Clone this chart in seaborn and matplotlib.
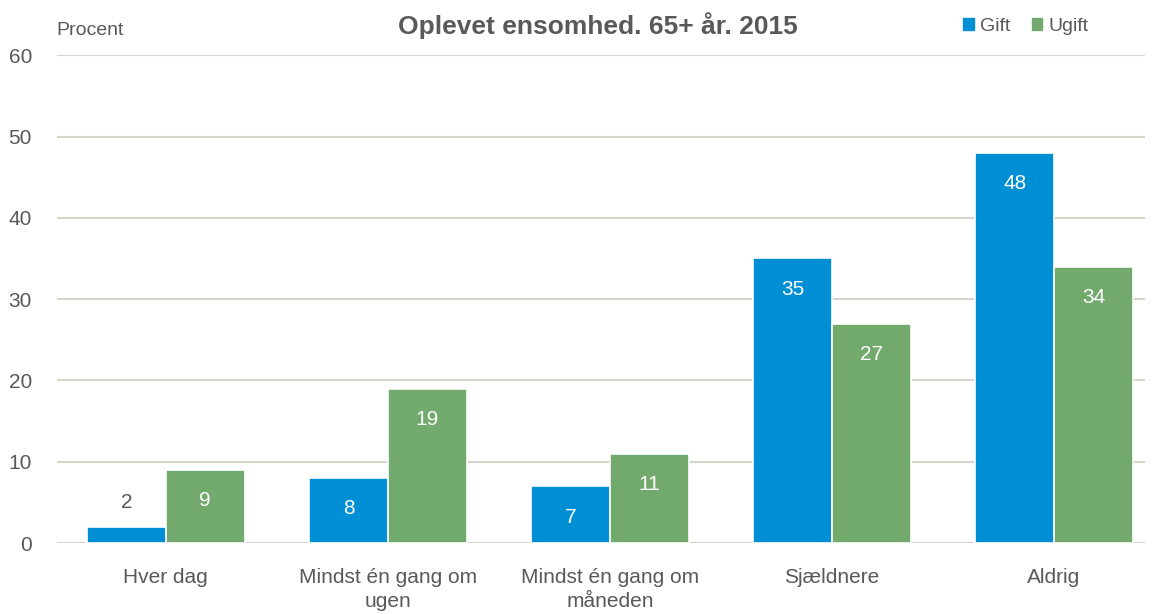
import matplotlib
matplotlib.use("Agg")
import matplotlib.pyplot as plt
import seaborn as sns
import pandas as pd

# data
categories = ["Hver dag", "Mindst én gang om\nugen", "Mindst én gang om\nmåneden", "Sjældnere", "Aldrig"]
gift = [2, 8, 7, 35, 48]
ugift = [9, 19, 11, 27, 34]
series = ["Gift", "Ugift"]
yticks = [0, 10, 20, 30, 40, 50, 60]

colors = {"Gift": "#008fd5", "Ugift": "#72a96d"}
text_grey = "#595959"
grid_grey = "#d6d4cc"

sns.set_theme(style="white")
plt.rcParams["font.family"] = ["Liberation Sans", "DejaVu Sans"]

df = pd.DataFrame({
    "kategori": categories * 2,
    "serie": ["Gift"] * len(categories) + ["Ugift"] * len(categories),
    "procent": gift + ugift,
})

fig = plt.figure(figsize=(11.52, 6.14), dpi=100)
ax = fig.add_axes([0.0495, 0.1156, 0.9445, 0.7944])

sns.barplot(data=df, x="kategori", y="procent", hue="serie", palette=colors,
            saturation=1, width=0.71, ax=ax, edgecolor="white", linewidth=1.2,
            legend=False)

ax.set_ylim(0, 60)
ax.set_yticks(yticks)
ax.set_xlim(-0.49, len(categories) - 0.59)
ax.yaxis.grid(True, color=grid_grey, linewidth=1.5)
ax.set_axisbelow(True)
for s in ax.spines.values():
    s.set_visible(False)
ax.set_xlabel("")
ax.set_ylabel("")
ax.tick_params(axis="y", labelsize=15, labelcolor=text_grey, pad=18, length=0)
ax.tick_params(axis="x", labelsize=15, labelcolor=text_grey, pad=18, length=0)
for lbl in ax.get_xticklabels():
    lbl.set_linespacing(1.35)

# value labels
for cont in ax.containers:
    for bar in cont:
        h = bar.get_height()
        xc = bar.get_x() + bar.get_width() / 2
        if h < 4:
            ax.text(xc, h + 3.0, f"{h:.0f}", ha="center", va="center",
                    fontsize=15, color=text_grey)
        else:
            ax.text(xc, h - 3.8, f"{h:.0f}", ha="center", va="center",
                    fontsize=15, color="white")

fig.text(0.519, 0.958, "Oplevet ensomhed. 65+ år. 2015", ha="center", va="center",
         fontsize=19, fontweight="bold", color=text_grey)
fig.text(0.049, 0.95, "Procent", ha="left", va="center", fontsize=14, color=text_grey)

handles = [plt.Rectangle((0, 0), 1, 1, color=colors[s]) for s in series]
fig.legend(handles, series, loc="center right", bbox_to_anchor=(0.96, 0.957), ncol=2,
           frameon=False, fontsize=14, handlelength=0.55, handleheight=0.55,
           handletextpad=0.3, columnspacing=1.1, labelcolor=text_grey)

fig.savefig("out.png", dpi=100)
